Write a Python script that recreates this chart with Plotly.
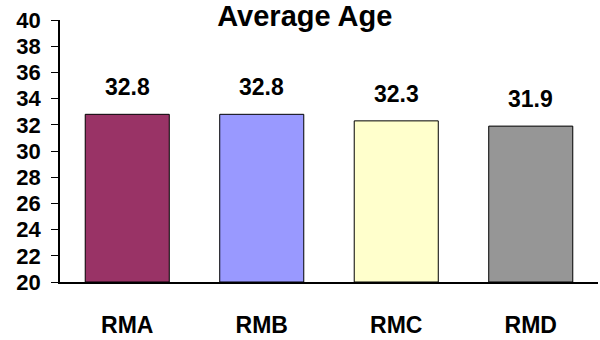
import plotly.graph_objects as go

categories = ["RMA", "RMB", "RMC", "RMD"]
avg_age = [32.8, 32.8, 32.3, 31.9]
bar_colors = ["#993366", "#9999FF", "#FFFFCC", "#969696"]
y_ticks = list(range(20, 41, 2))
Y_FLOOR = 20

FONT = "Arial, Liberation Sans, sans-serif"

fig = go.Figure()
# bars start at the axis floor, so heights are value minus base
fig.add_trace(go.Bar(
    x=categories,
    y=[v - Y_FLOOR for v in avg_age],
    base=Y_FLOOR,
    marker=dict(color=bar_colors, line=dict(color="#000000", width=1)),
    showlegend=False,
))

for c, v in zip(categories, avg_age):
    fig.add_annotation(
        x=c, y=v, xref="x", yref="y",
        text=f"<b>{v:.1f}</b>", showarrow=False,
        yanchor="bottom", yshift=12,
        font=dict(family=FONT, size=23, color="#000000"),
    )

fig.update_layout(
    width=600, height=340,
    margin=dict(l=60, r=2, t=20, b=49),
    paper_bgcolor="white", plot_bgcolor="white",
    bargap=0.375,
    title=dict(
        text="<b>Average Age</b>", x=0.508, xanchor="center",
        y=0.982, yanchor="top", yref="container",
        font=dict(family=FONT, size=29, color="#000000"),
    ),
    font=dict(family=FONT, color="#000000"),
)
fig.update_xaxes(
    showline=True, linecolor="#000000", linewidth=1.5,
    ticks="outside", ticklen=22, tickcolor="rgba(0,0,0,0)",
    tickfont=dict(family=FONT, size=23, color="#000000"),
    tickvals=categories, ticktext=[f"<b>{c}</b>" for c in categories],
    showgrid=False,
)
fig.update_yaxes(
    range=[20, 40], showline=True, linecolor="#000000", linewidth=1.5,
    ticks="outside", ticklen=7, tickcolor="#000000",
    tickvals=y_ticks, ticktext=[f"<b>{t}</b>" for t in y_ticks],
    tickfont=dict(family=FONT, size=22, color="#000000"),
    ticklabelstandoff=6,
    showgrid=False, zeroline=False,
)

fig.write_html("out.html")
